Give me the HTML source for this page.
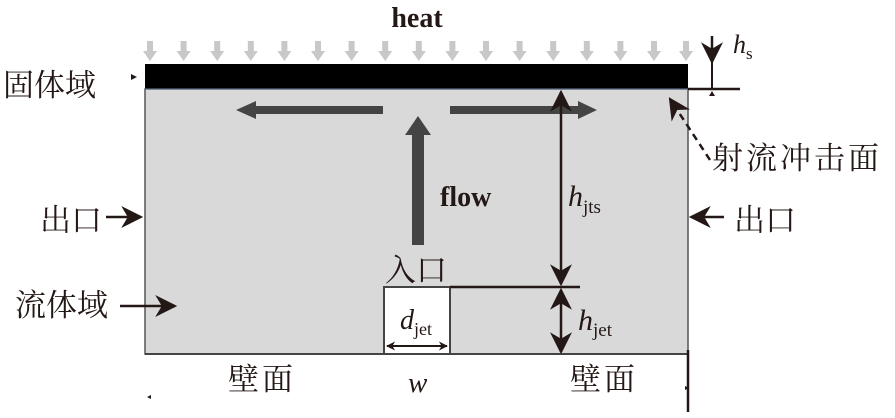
<!DOCTYPE html>
<html><head><meta charset="utf-8"><style>
html,body{margin:0;padding:0;background:#fff;}
svg{display:block;}
text{font-family:"Liberation Serif","Noto Serif CJK SC",serif;fill:#231815;}
.cn{font-family:"Liberation Serif","Noto Serif CJK SC",serif;font-size:31px;}
</style></head><body>
<svg width="895" height="418" viewBox="0 0 895 418" xmlns="http://www.w3.org/2000/svg">
<defs>
<marker id="ah" viewBox="0 0 10 10" refX="9" refY="5" markerWidth="9" markerHeight="9" orient="auto-start-reverse" markerUnits="userSpaceOnUse">
<path d="M0,0 L10,5 L0,10 L3,5 Z" fill="#231815"/></marker>
<marker id="ahb" viewBox="0 0 10 10" refX="9" refY="5" markerWidth="26" markerHeight="22" orient="auto-start-reverse" markerUnits="userSpaceOnUse">
<path d="M0,0 L10,5 L0,10 L3,5 Z" fill="#231815"/></marker>
</defs>
<!-- heat arrows -->
<g fill="#c8c8c8">
<path d="M147,41h6v10h4l-7,10l-7,-10h4z"/>
<path d="M180.6,41h6v10h4l-7,10l-7,-10h4z"/>
<path d="M214.2,41h6v10h4l-7,10l-7,-10h4z"/>
<path d="M247.8,41h6v10h4l-7,10l-7,-10h4z"/>
<path d="M281.4,41h6v10h4l-7,10l-7,-10h4z"/>
<path d="M315,41h6v10h4l-7,10l-7,-10h4z"/>
<path d="M348.6,41h6v10h4l-7,10l-7,-10h4z"/>
<path d="M382.2,41h6v10h4l-7,10l-7,-10h4z"/>
<path d="M415.8,41h6v10h4l-7,10l-7,-10h4z"/>
<path d="M449.4,41h6v10h4l-7,10l-7,-10h4z"/>
<path d="M483,41h6v10h4l-7,10l-7,-10h4z"/>
<path d="M516.6,41h6v10h4l-7,10l-7,-10h4z"/>
<path d="M550.2,41h6v10h4l-7,10l-7,-10h4z"/>
<path d="M583.8,41h6v10h4l-7,10l-7,-10h4z"/>
<path d="M617.4,41h6v10h4l-7,10l-7,-10h4z"/>
<path d="M651,41h6v10h4l-7,10l-7,-10h4z"/>
<path d="M683,41h6v10h4l-7,10l-7,-10h4z"/>
</g>
<text x="417" y="27" font-size="28" font-weight="bold" text-anchor="middle">heat</text>
<!-- fluid -->
<rect x="145" y="89" width="543" height="265" fill="#d9d9d9" stroke="#555" stroke-width="1.5"/>
<rect x="145" y="64" width="543" height="25" fill="#000"/>
<line x1="145" y1="89" x2="688" y2="89" stroke="#6a7fa0" stroke-width="1"/>
<rect x="384" y="287" width="66" height="67" fill="#fff" stroke="#444" stroke-width="2"/>
<line x1="145" y1="354" x2="688" y2="354" stroke="#444" stroke-width="2"/>
<line x1="688" y1="350" x2="688" y2="412" stroke="#231815" stroke-width="2.5"/>
<line x1="450" y1="287" x2="580" y2="287" stroke="#231815" stroke-width="2.5"/>
<!-- flow arrows -->
<g fill="#444">
<rect x="253" y="106" width="130" height="8"/><path d="M236,110 L256,101 L256,119 Z"/>
<rect x="450" y="106" width="130" height="8"/><path d="M597,110 L578,101 L578,119 Z"/>
<rect x="412" y="133" width="12" height="112"/><path d="M418,116 L405,135 L431,135 Z"/>
</g>
<text x="440" y="206" font-size="28" font-weight="bold">flow</text>
<!-- dimension arrows -->
<line x1="561" y1="92" x2="561" y2="284" stroke="#231815" stroke-width="2.5" marker-start="url(#ahb)" marker-end="url(#ahb)"/>
<line x1="561" y1="290" x2="561" y2="352" stroke="#231815" stroke-width="2.5" marker-start="url(#ahb)" marker-end="url(#ahb)"/>
<line x1="387" y1="346" x2="447" y2="346" stroke="#231815" stroke-width="2" marker-start="url(#ah)" marker-end="url(#ah)"/>
<line x1="712" y1="36" x2="712" y2="62" stroke="#231815" stroke-width="2.5" marker-end="url(#ahb)"/>
<line x1="712" y1="62" x2="712" y2="89" stroke="#231815" stroke-width="2"/>
<line x1="688" y1="89" x2="740" y2="89" stroke="#231815" stroke-width="2.5"/>
<path d="M709,96 L715,96 L712,91 Z" fill="#231815"/>
<!-- labels -->
<text x="733" y="53" font-size="26" font-style="italic">h<tspan font-size="17" font-style="normal" dy="6">s</tspan></text>
<text x="568" y="206" font-size="30" font-style="italic">h<tspan font-size="19" font-style="normal" dy="7">jts</tspan></text>
<text x="578" y="330" font-size="30" font-style="italic">h<tspan font-size="19" font-style="normal" dy="6">jet</tspan></text>
<text x="400" y="329" font-size="28" font-style="italic">d<tspan font-size="18" font-style="normal" dy="6">jet</tspan></text>
<text x="408" y="392" font-size="29" font-style="italic">w</text>
<text class="cn" x="3" y="96">固体域</text>
<text class="cn" x="40" y="231">出口</text>
<text class="cn" x="734" y="231">出口</text>
<text class="cn" x="15" y="316">流体域</text>
<text class="cn" x="712" y="169" letter-spacing="3">射流冲击面</text>
<text class="cn" x="385" y="281">入口</text>
<text class="cn" x="228" y="390" letter-spacing="3">壁面</text>
<text class="cn" x="570" y="390" letter-spacing="3">壁面</text>
<line x1="106" y1="217" x2="141" y2="217" stroke="#231815" stroke-width="2.5" marker-end="url(#ahb)"/>
<line x1="724" y1="217" x2="691" y2="217" stroke="#231815" stroke-width="2.5" marker-end="url(#ahb)"/>
<line x1="120" y1="306" x2="175" y2="306" stroke="#231815" stroke-width="2.5" marker-end="url(#ahb)"/>
<line x1="710" y1="160" x2="670" y2="99" stroke="#231815" stroke-width="2.5" stroke-dasharray="7,5" marker-end="url(#ahb)"/>
<path d="M131,74 L137,77 L131,80 Z" fill="#231815"/>
<path d="M147,397 L151,395 L151,399 Z" fill="#231815"/>
<path d="M685,386 L689,388 L685,390 Z" fill="#231815"/>
</svg>
</body></html>
